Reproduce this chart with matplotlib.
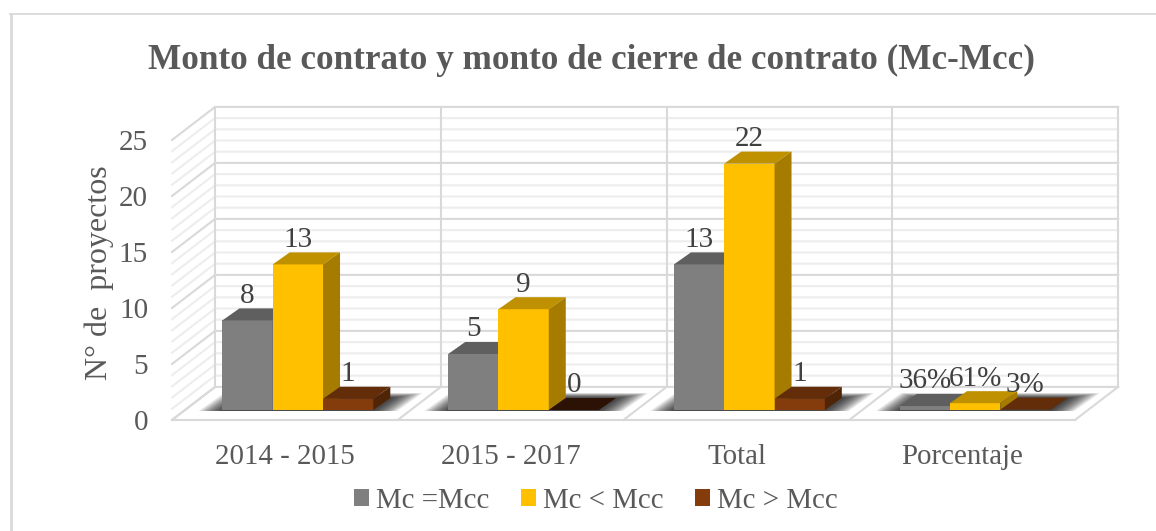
import matplotlib
matplotlib.use("Agg")
import matplotlib.pyplot as plt
from matplotlib.patches import Patch, Polygon

categorias = ["2014 - 2015", "2015 - 2017", "Total", "Porcentaje"]
series = ["Mc =Mcc", "Mc < Mcc", "Mc > Mcc"]
mc_igual = [8, 5, 13, 0.36]
mc_menor = [13, 9, 22, 0.61]
mc_mayor = [1, 0, 1, 0.03]
etiquetas_igual = ["8", "5", "13", "36%"]
etiquetas_menor = ["13", "9", "22", "61%"]
etiquetas_mayor = ["1", "0", "1", "3%"]
ticks_y = [0, 5, 10, 15, 20, 25]

colores = ["#7F7F7F", "#FFC000", "#843C0C"]
colores_top = ["#5F5F5F", "#BF9000", "#632D09"]
colores_lado = ["#4C4C4C", "#A67C00", "#4F2407"]
color_cero = "#2B1204"

W, H = 1156, 531
# scale of the bar plane in pixels
PX_CAT = 225.75
PX_VAL = 11.2
X0_PX = 185
Y0_PX = 410

# everything below is in data units: x = category, y = value
def px_x(p):
    return p / PX_CAT

def px_y(p):
    return p / PX_VAL

plt.rcParams["font.family"] = ["Liberation Serif", "DejaVu Serif"]
fig = plt.figure(figsize=(W / 100, H / 100), dpi=100)
ax = fig.add_axes([0, 0, 1, 1])
ax.set_xlim(-X0_PX / PX_CAT, (W - X0_PX) / PX_CAT)
ax.set_ylim(-(H - Y0_PX) / PX_VAL, Y0_PX / PX_VAL)
ax.axis("off")

# floor depth: 30% of it lies in front of the bars
fx, fy = px_x(43), px_y(33)
front_x, front_y = -0.3 * fx, -0.3 * fy
back_x, back_y = 0.7 * fx, 0.7 * fy
n_cat = len(categorias)
tope = ticks_y[-1]
gris = "#D9D9D9"
gris_claro = "#EDEDED"

# outer frame
ax.plot([px_x(11 - X0_PX)] * 2, [px_y(Y0_PX - 14), px_y(Y0_PX - H)], color=gris, lw=2, zorder=1)
ax.plot([px_x(10 - X0_PX), px_x(W - X0_PX)], [px_y(Y0_PX - 13.5)] * 2, color=gris, lw=1.3, zorder=1)

# walls: minor lines every unit, major every 5
for v in range(tope + 1):
    mayor = v % 5 == 0
    c = gris if mayor else gris_claro
    z = 2.2 if mayor else 2
    ax.plot([front_x, back_x, back_x + n_cat], [front_y + v, back_y + v, back_y + v],
            color=c, lw=1.5, zorder=z, solid_joinstyle="miter")
for i in range(n_cat + 1):
    ax.plot([back_x + i] * 2, [back_y, back_y + tope], color=gris, lw=1.5, zorder=2.3)
    ax.plot([front_x + i, back_x + i], [front_y, back_y], color=gris, lw=1.5, zorder=2.3)
ax.plot([front_x, front_x + n_cat], [front_y, front_y], color=gris, lw=1.5, zorder=2.3)

# bars
ancho = px_x(50.3)
hueco = (1 - 3 * ancho) / 2
bx, by = px_x(17), px_y(12)
valores = [mc_igual, mc_menor, mc_mayor]
etiquetas = [etiquetas_igual, etiquetas_menor, etiquetas_mayor]

# soft shadow under each group
for i in range(n_cat):
    x_a = i + hueco
    x_b = i + hueco + 3 * ancho
    capas = 16
    for k in range(capas):
        resto = 1 - k / capas
        ext = px_x(24) * resto
        y_f, y_b = px_y(-1), by + px_y(5) * resto
        skew = (y_b - y_f) / by * bx
        ax.add_patch(Polygon([(x_a - ext, y_f), (x_b + ext, y_f),
                              (x_b + ext + skew, y_b), (x_a - ext + skew, y_b)],
                             closed=True, fc="black", ec="none", alpha=0.07, zorder=3))

for s in range(3):
    for i in range(n_cat):
        v = valores[s][i]
        x1 = i + hueco + s * ancho
        x2 = x1 + ancho
        top = colores_top[s] if v > 0 else color_cero
        ax.bar(x1, v, width=ancho, align="edge", color=colores[s], zorder=4 + s)
        ax.add_patch(Polygon([(x1, v), (x2, v), (x2 + bx, v + by), (x1 + bx, v + by)],
                             closed=True, fc=top, ec="none", zorder=4 + s))
        ax.add_patch(Polygon([(x2, 0), (x2 + bx, by), (x2 + bx, v + by), (x2, v)],
                             closed=True, fc=colores_lado[s], ec="none", zorder=4 + s))
        ax.text((x1 + x2) / 2, v + by + px_y(12.5), etiquetas[s][i], ha="center", va="center",
                fontsize=21, color="#404040", zorder=8)

# axis texts
for v in ticks_y:
    ax.text(front_x - px_x(24), front_y + v - px_y(3.5), str(v), ha="right", va="center",
            fontsize=21, color="#595959")
for i, c in enumerate(categorias):
    ax.text(front_x + i + 0.5, px_y(Y0_PX - 457), c, ha="center", va="center",
            fontsize=20.8, color="#595959")
ax.text(px_x(99 - X0_PX), px_y(Y0_PX - 273), "N° de  proyectos", rotation=90, ha="center", va="center",
        fontsize=23, color="#595959")
ax.text(px_x(591 - X0_PX), px_y(Y0_PX - 60), "Monto de contrato y monto de cierre de contrato (Mc-Mcc)",
        ha="center", va="center", fontsize=25.3, fontweight="bold", color="#595959")

handles = [Patch(fc=colores[k], ec="none", label=series[k]) for k in range(3)]
fig.legend(handles=handles, loc="center", bbox_to_anchor=(596 / W, 1 - 501 / H), ncol=3,
           frameon=False, fontsize=20.8, labelcolor="#595959", handlelength=0.52, handleheight=0.52,
           handletextpad=0.24, columnspacing=1.1, borderpad=0, borderaxespad=0)

fig.savefig("out.png", dpi=100)
